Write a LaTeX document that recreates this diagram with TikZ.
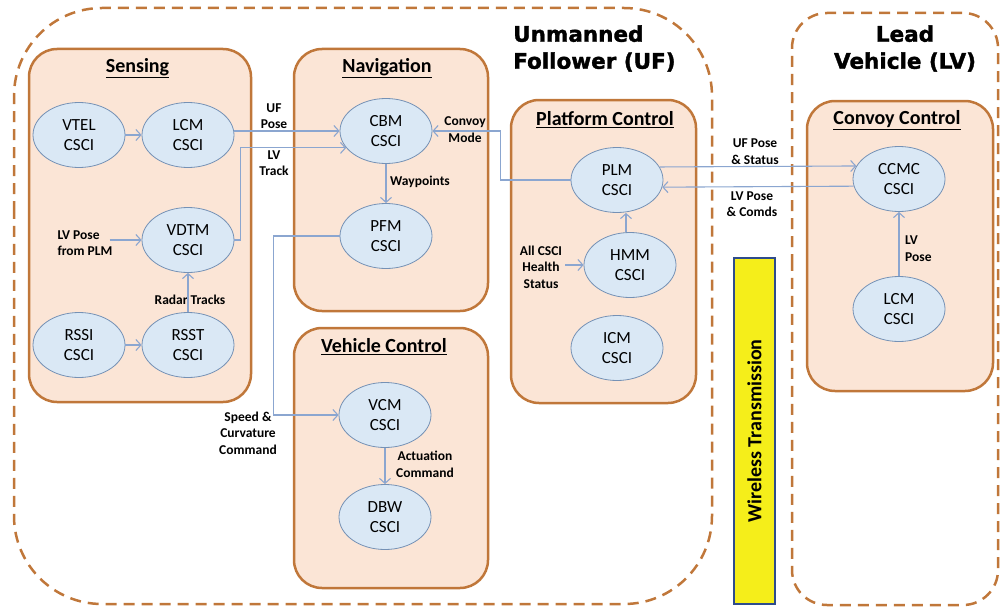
\documentclass[tikz,border=0pt]{standalone}
\usepackage{fontspec}
\setmainfont{Carlito}
\newfontfamily\heavy[BoldFont={DejaVu Sans Bold}, BoldFeatures={FakeBold=1.6}]{DejaVu Sans}
\usetikzlibrary{shapes.geometric,arrows.meta,calc}
\definecolor{boxfill}{HTML}{FBE5D6}
\definecolor{boxline}{HTML}{C0773A}
\definecolor{ellfill}{HTML}{DAE8F5}
\definecolor{ellline}{HTML}{7591B5}
\definecolor{arrc}{HTML}{8BA6D0}
\definecolor{wyellow}{HTML}{F5EE1A}
\definecolor{wblue}{HTML}{2E4C8C}
\begin{document}
\begin{tikzpicture}[x=1pt,y=-1pt,
  grp/.style={draw=boxline, fill=boxfill, line width=2.5pt, rounded corners=28pt, inner sep=0pt},
  outer/.style={draw=boxline, line width=2.5pt, dash pattern=on 11pt off 7pt},
  csci/.style={ellipse, draw=ellline, fill=ellfill, line width=0.8pt, minimum width=92pt, minimum height=65pt, inner sep=0pt, align=center, font=\fontsize{17}{20}\selectfont},
  lbl/.style={align=center, font=\bfseries\fontsize{13.5}{16.5}\selectfont, inner sep=0pt},
  ttl/.style={font=\bfseries\fontsize{20}{24}\selectfont, inner sep=0pt},
  big/.style={font=\heavy\bfseries\fontsize{21.5}{27}\selectfont, inner sep=0pt},
  arr/.style={draw=arrc, line width=1.1pt, -{Straight Barb[length=5pt,width=11pt]}},
]
\useasboundingbox (0,0) rectangle (1001,610);

% outer dashed regions
\draw[outer, rounded corners=88pt] (14,300) |- (712,8) |- (14,604) -- cycle;
\draw[outer, rounded corners=35pt] (792,300) |- (998,13) |- (792,605) -- cycle;

\node[big, anchor=west, align=left] (uf) at (513,48.5) {Unmanned\\Follower (UF)};
\node[big, align=center] (lv) at (905,48.5) {Lead\\Vehicle (LV)};

% group boxes
\node[grp, minimum width=222pt, minimum height=353pt] (sensing) at (140,225.5) {};
\node[grp, minimum width=194pt, minimum height=262pt] (nav) at (391,180) {};
\node[grp, minimum width=194pt, minimum height=260pt] (vc) at (391,458) {};
\node[grp, minimum width=185pt, minimum height=303pt] (pc) at (603.5,251.5) {};
\node[grp, minimum width=186pt, minimum height=290pt] (cc) at (900,246) {};

\node[ttl] (tsens) at (137.5,68) {\underline{Sensing}};
\node[ttl] (tnav) at (387,68) {\underline{Navigation}};
\node[ttl] (tvc) at (384,347) {\underline{Vehicle Control}};
\node[ttl] (tpc) at (605,120) {\underline{Platform Control}};
\node[ttl] (tcc) at (897,120) {\underline{Convoy Control}};

% wireless
\node[draw=wblue, fill=wyellow, line width=2pt, rotate=90, minimum width=346pt, minimum height=41pt, inner sep=0pt, font=\bfseries\fontsize{20}{24}\selectfont] (wl) at (754.5,431) {Wireless Transmission};

% ellipses
\node[csci] (vtel) at (79,135) {VTEL\\CSCI};
\node[csci] (lcm) at (188,135) {LCM\\CSCI};
\node[csci] (vdtm) at (188,240) {VDTM\\CSCI};
\node[csci] (rssi) at (79,345) {RSSI\\CSCI};
\node[csci] (rsst) at (188,345) {RSST\\CSCI};
\node[csci] (cbm) at (386,131) {CBM\\CSCI};
\node[csci] (pfm) at (386,236) {PFM\\CSCI};
\node[csci] (vcm) at (385,415) {VCM\\CSCI};
\node[csci] (dbw) at (385,517) {DBW\\CSCI};
\node[csci] (plm) at (617,180) {PLM\\CSCI};
\node[csci] (hmm) at (630,265) {HMM\\CSCI};
\node[csci] (icm) at (617,348) {ICM\\CSCI};
\node[csci] (ccmc) at (899,179) {CCMC\\CSCI};
\node[csci] (lcmb) at (899,309) {LCM\\CSCI};

% labels
\node[lbl] (lufpose) at (274,116) {UF\\Pose};
\node[lbl] (llvtrack) at (274,163) {LV\\Track};
\node[lbl, align=left] (llvplm) at (85,243) {LV Pose\\from PLM};
\node[lbl] (lradar) at (190,300) {Radar Tracks};
\node[lbl] (lway) at (420,182) {Waypoints};
\node[lbl] (lconvoy) at (465,129.5) {Convoy\\Mode};
\node[lbl] (lspeed) at (248,433) {Speed \&\\Curvature\\Command};
\node[lbl] (lact) at (425,464.5) {Actuation\\Command};
\node[lbl] (lhealth) at (541,267) {All CSCI\\Health\\Status};
\node[lbl] (lufstat) at (755,151.5) {UF Pose\\\& Status};
\node[lbl] (llvcomd) at (752,204) {LV Pose\\\& Comds};
\node[lbl, anchor=west, align=left] (llvpose) at (905,248.5) {LV\\Pose};

% connectors
\draw[arr] (vtel.east) -- (lcm.west);
\draw[arr] (lcm.east |- cbm.west) -- (cbm.west);
\draw[arr] (vdtm.east) -- ++(6,0) |- (cbm.203);
\draw[arr, shorten <=-3pt] (llvplm.east |- vdtm.west) -- (vdtm.west);
\draw[arr] (rsst.north) -- (vdtm.south);
\draw[arr] (rssi.east) -- (rsst.west);
\draw[arr] (cbm.south) -- (pfm.north);
\draw[arr] (plm.west) -- ++(-70,0) |- (cbm.east);
\draw[arr] (pfm.west) -- ++(-66,0) |- (vcm.west);
\draw[arr] (vcm.south) -- (dbw.north);
\draw[arr] (hmm.97) -- (hmm.97 |- plm.south);
\draw[arr, shorten <=3pt] (lhealth.east |- hmm.west) -- (hmm.west);
\draw[arr] (plm.17) -- (ccmc.163);
\draw[arr] (ccmc.189) -- (plm.351);
\draw[arr] (lcmb.north) -- (ccmc.south);
\end{tikzpicture}
\end{document}
